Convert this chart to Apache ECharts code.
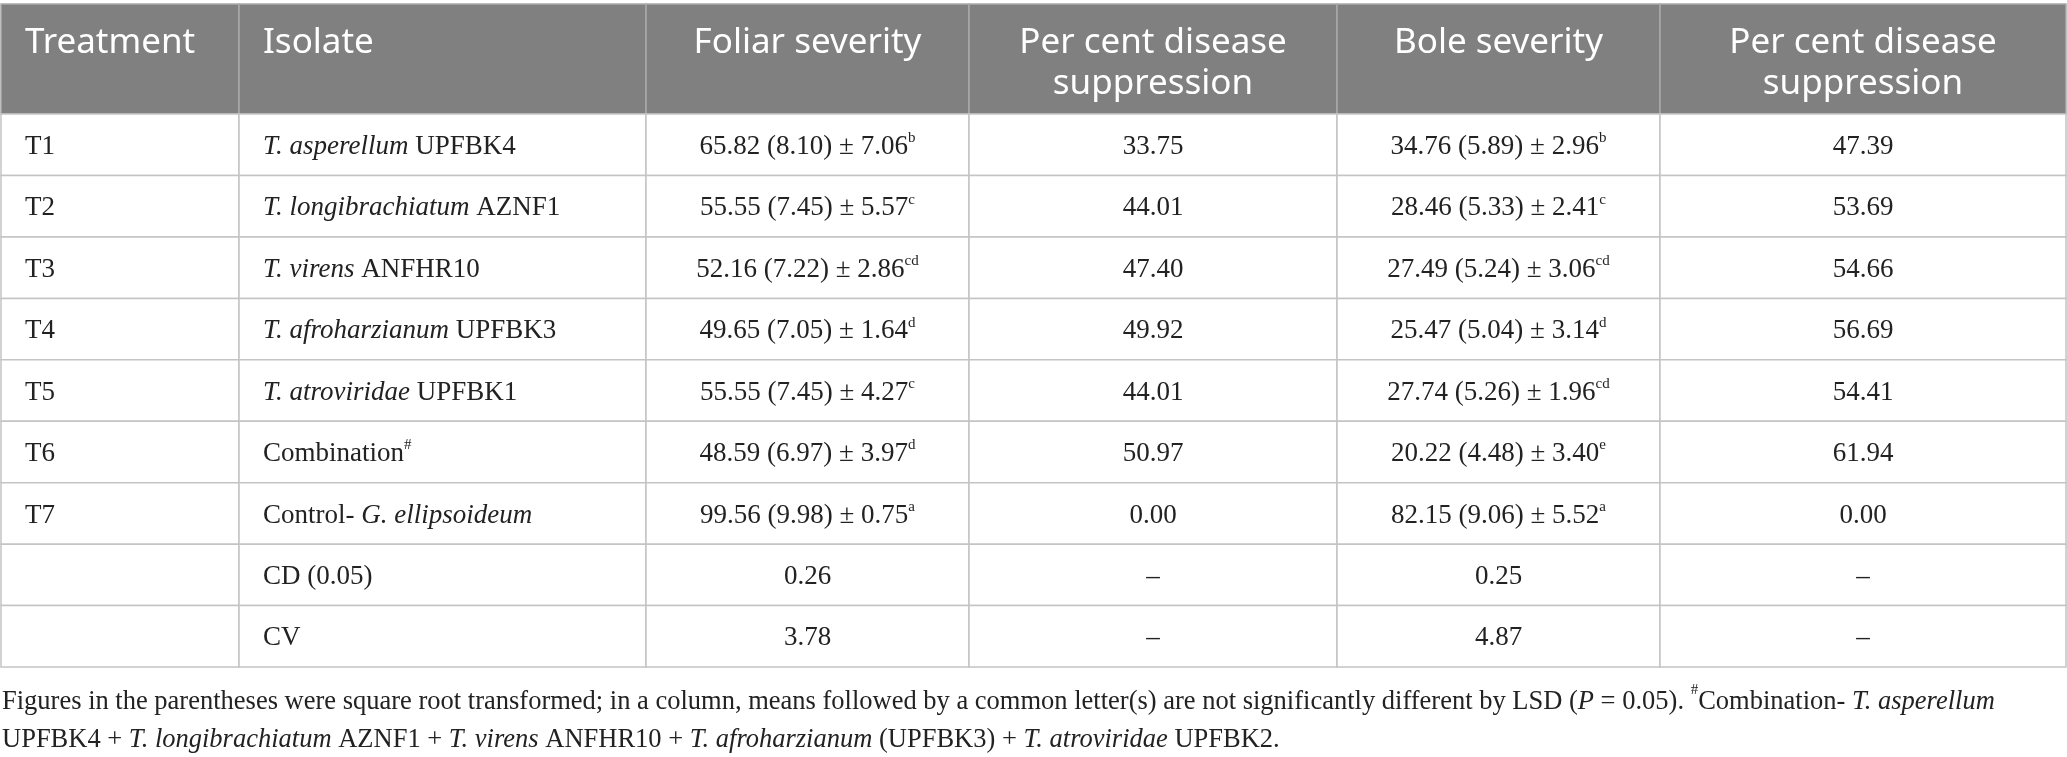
<!DOCTYPE html>
<html>
<head>
<meta charset="utf-8">
<script src="https://cdn.jsdelivr.net/npm/echarts@6/dist/echarts.min.js"></script>
<style>
  html, body { margin: 0; padding: 0; background: #fff; }
  #tableContainer { width: 2067px; height: 757px; }
</style>
</head>
<body>
<div id="tableContainer"></div>
<script>
var headers = ['Treatment', 'Isolate', 'Foliar severity', 'Per cent disease\nsuppression', 'Bole severity', 'Per cent disease\nsuppression'];
var treatments = ['T1', 'T2', 'T3', 'T4', 'T5', 'T6', 'T7'];
var isolateSpecies = ['T. asperellum', 'T. longibrachiatum', 'T. virens', 'T. afroharzianum', 'T. atroviridae', '', 'G. ellipsoideum'];
var isolateName = ['UPFBK4', 'AZNF1', 'ANFHR10', 'UPFBK3', 'UPFBK1', 'Combination', 'Control-'];
var isolateNote = ['', '', '', '', '', '#', ''];

var foliarMean = [65.82, 55.55, 52.16, 49.65, 55.55, 48.59, 99.56];
var foliarSqrt = [8.10, 7.45, 7.22, 7.05, 7.45, 6.97, 9.98];
var foliarSE = [7.06, 5.57, 2.86, 1.64, 4.27, 3.97, 0.75];
var foliarLetter = ['b', 'c', 'cd', 'd', 'c', 'd', 'a'];
var foliarSuppression = [33.75, 44.01, 47.40, 49.92, 44.01, 50.97, 0.00];

var boleMean = [34.76, 28.46, 27.49, 25.47, 27.74, 20.22, 82.15];
var boleSqrt = [5.89, 5.33, 5.24, 5.04, 5.26, 4.48, 9.06];
var boleSE = [2.96, 2.41, 3.06, 3.14, 1.96, 3.40, 5.52];
var boleLetter = ['b', 'c', 'cd', 'd', 'cd', 'e', 'a'];
var boleSuppression = [47.39, 53.69, 54.66, 56.69, 54.41, 61.94, 0.00];

var statLabels = ['CD (0.05)', 'CV'];
var foliarStats = [0.26, 3.78];
var boleStats = [0.25, 4.87];

var footnoteLines = [
  '{n|Figures in the parentheses were square root transformed; in a column, means followed by a common letter(s) are not significantly different by LSD (}{i|P}{n| = 0.05). }{s|#}{n|Combination- }{i|T. asperellum}',
  '{n|UPFBK4 + }{i|T. longibrachiatum}{n| AZNF1 + }{i|T. virens}{n| ANFHR10 + }{i|T. afroharzianum}{n| (UPFBK3) + }{i|T. atroviridae}{n| UPFBK2.}'
];

// layout of the grid (pixels of the table)
var colWidths = [238, 407, 323, 368, 323, 406];
var rowHeights = [110, 61.4, 61.4, 61.4, 61.4, 61.4, 61.4, 61.4, 61.4, 61.4];
var colAlign = ['left', 'left', 'center', 'center', 'center', 'center'];

var serif = '"Liberation Serif", "DejaVu Serif", serif';
var sans = '"Noto Sans", "Open Sans", sans-serif';

function cumulative(arr) {
  var out = [0];
  for (var i = 0; i < arr.length; i++) out.push(out[i] + arr[i]);
  return out;
}
var colEdges = cumulative(colWidths);
var rowEdges = cumulative(rowHeights);

function fmt(v) { return v.toFixed(2); }
function severityText(mean, sq, se, letter) {
  return '{n|' + fmt(mean) + ' (' + fmt(sq) + ') ± ' + fmt(se) + '}{s|' + letter + '}';
}
function isolateText(i) {
  if (isolateSpecies[i] === '') return '{n|' + isolateName[i] + '}{s|' + isolateNote[i] + '}';
  if (isolateName[i].slice(-1) === '-') return '{n|' + isolateName[i] + ' }{i|' + isolateSpecies[i] + '}';
  return '{i|' + isolateSpecies[i] + '}{n| ' + isolateName[i] + '}';
}

// cell text table built from the arrays above
var cellText = [headers];
for (var i = 0; i < treatments.length; i++) {
  cellText.push([
    '{n|' + treatments[i] + '}',
    isolateText(i),
    severityText(foliarMean[i], foliarSqrt[i], foliarSE[i], foliarLetter[i]),
    '{n|' + fmt(foliarSuppression[i]) + '}',
    severityText(boleMean[i], boleSqrt[i], boleSE[i], boleLetter[i]),
    '{n|' + fmt(boleSuppression[i]) + '}'
  ]);
}
for (var k = 0; k < statLabels.length; k++) {
  cellText.push(['', '{n|' + statLabels[k] + '}', '{n|' + fmt(foliarStats[k]) + '}', '{n|–}', '{n|' + fmt(boleStats[k]) + '}', '{n|–}']);
}

var cells = [];
for (var r = 0; r < cellText.length; r++) {
  for (var c = 0; c < headers.length; c++) cells.push([c, r]);
}

var bodyRich = {
  n: { fontFamily: serif, fontSize: 27, fill: '#222', lineHeight: 32 },
  i: { fontFamily: serif, fontSize: 27, fontStyle: 'italic', fill: '#222', lineHeight: 32 },
  s: { fontFamily: serif, fontSize: 15, fill: '#222', lineHeight: 15, verticalAlign: 'top' }
};

function renderCell(params, api) {
  var c = api.value(0), r = api.value(1);
  var p0 = api.coord([colEdges[c], rowEdges[r]]);
  var p1 = api.coord([colEdges[c + 1], rowEdges[r + 1]]);
  var isHead = r === 0;
  var tx = colAlign[c] === 'left' ? p0[0] + 24 : (p0[0] + p1[0]) / 2;
  var children = [{
    type: 'rect',
    shape: { x: p0[0], y: p0[1], width: p1[0] - p0[0], height: p1[1] - p0[1] },
    style: { fill: isHead ? '#808080' : '#fff', stroke: isHead ? '#a9a9a9' : '#c4c4c4', lineWidth: 1.5 }
  }];
  if (isHead) {
    children.push({
      type: 'text',
      style: {
        text: cellText[r][c], x: tx, y: p0[1] + 19,
        align: colAlign[c], verticalAlign: 'top',
        fontFamily: sans, fontSize: 35, lineHeight: 41, fill: '#fff'
      }
    });
  } else {
    children.push({
      type: 'text',
      style: {
        text: cellText[r][c], x: tx, y: (p0[1] + p1[1]) / 2 + 2,
        align: colAlign[c], verticalAlign: 'middle',
        fontFamily: serif, fontSize: 27, fill: '#222', rich: bodyRich
      }
    });
  }
  return { type: 'group', children: children };
}

var tableDom = document.getElementById('tableContainer');
var tableChart = echarts.init(tableDom);
var tableOption = {
  backgroundColor: '#fff',
  animation: false,
  title: {
    left: 2,
    top: 683,
    padding: 0,
    text: footnoteLines.join('\n'),
    textStyle: {
      fontWeight: 'normal',
      rich: {
        n: { fontFamily: serif, fontSize: 26.5, fontWeight: 'normal', color: '#222', lineHeight: 38 },
        i: { fontFamily: serif, fontSize: 26.5, fontWeight: 'normal', fontStyle: 'italic', color: '#222', lineHeight: 38 },
        s: { fontFamily: serif, fontSize: 15, fontWeight: 'normal', color: '#222', lineHeight: 30, verticalAlign: 'top' }
      }
    }
  },
  grid: { left: 1, top: 4, width: 2065, height: 663 },
  xAxis: { type: 'value', min: 0, max: colEdges[colEdges.length - 1], show: false },
  yAxis: { type: 'value', min: 0, max: rowEdges[rowEdges.length - 1], inverse: true, show: false },
  series: [{
    type: 'custom',
    renderItem: renderCell,
    data: cells,
    silent: true
  }]
};
tableChart.setOption(tableOption);
</script>
</body>
</html>
